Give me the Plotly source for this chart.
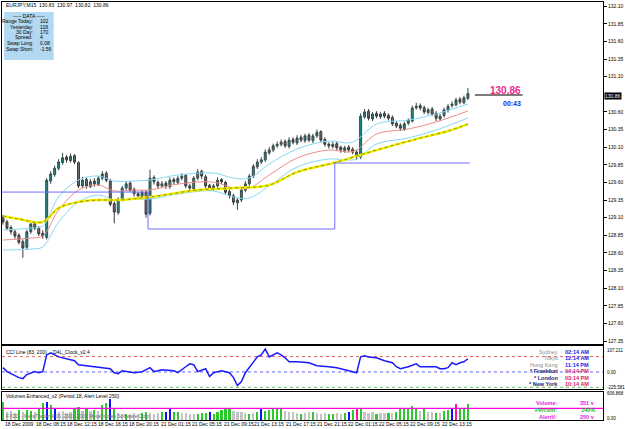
import plotly.graph_objects as go

# ---------------- data ----------------
bars = list(range(118))
opens = [129.10,129.04,128.96,128.90,128.85,128.76,128.68,128.90,129.02,128.95,
         128.88,128.82,129.62,129.71,129.80,129.88,129.96,129.91,129.98,129.88,
         129.55,129.64,129.54,129.62,129.57,129.66,129.73,129.62,129.30,129.17,
         129.36,129.52,129.59,129.50,129.44,129.40,129.46,129.16,129.67,129.60,
         129.55,129.59,129.54,129.64,129.60,129.66,129.70,129.55,129.51,129.66,
         129.76,129.68,129.56,129.51,129.55,129.64,129.60,129.47,129.41,129.31,
         129.35,129.49,129.58,129.69,129.82,129.89,129.92,130.02,130.06,130.12,
         130.14,130.18,130.11,130.21,130.16,130.24,130.19,130.27,130.19,130.26,
         130.32,130.21,130.14,130.11,130.15,130.10,130.05,130.10,130.07,130.03,
         129.96,130.53,130.61,130.50,130.58,130.53,130.58,130.55,130.52,130.44,
         130.41,130.36,130.44,130.47,130.66,130.69,130.66,130.59,130.64,130.58,
         130.50,130.55,130.62,130.69,130.70,130.78,130.73,130.79]
highs = [129.14,129.07,128.99,128.93,128.88,128.79,128.93,129.06,129.05,128.98,
         128.92,129.66,129.76,129.84,129.93,130.02,129.99,130.01,130.00,129.90,
         129.68,129.67,129.65,129.66,129.69,129.76,129.76,129.65,129.33,129.39,
         129.55,129.62,129.62,129.53,129.47,129.49,129.49,129.78,129.70,129.63,
         129.62,129.62,129.67,129.67,129.69,129.73,129.72,129.58,129.69,129.79,
         129.78,129.71,129.58,129.58,129.67,129.66,129.62,129.50,129.44,129.38,
         129.52,129.62,129.72,129.86,129.93,129.96,130.07,130.10,130.15,130.18,
         130.21,130.21,130.24,130.24,130.27,130.27,130.29,130.30,130.29,130.35,
         130.34,130.24,130.17,130.18,130.18,130.12,130.12,130.13,130.10,130.06,
         130.58,130.64,130.64,130.60,130.61,130.60,130.61,130.58,130.55,130.47,
         130.44,130.46,130.51,130.69,130.73,130.72,130.69,130.66,130.67,130.61,
         130.57,130.66,130.71,130.75,130.80,130.81,130.83,130.94]
lows = [129.00,128.92,128.86,128.80,128.72,128.53,128.65,128.87,128.92,128.84,
        128.80,128.79,129.58,129.68,129.77,129.85,129.88,129.88,129.86,129.52,
        129.52,129.51,129.52,129.54,129.55,129.63,129.60,129.26,129.02,129.14,
        129.33,129.49,129.46,129.40,129.37,129.38,129.10,129.13,129.57,129.51,
        129.52,129.51,129.51,129.57,129.57,129.63,129.52,129.48,129.48,129.63,
        129.65,129.52,129.48,129.48,129.52,129.58,129.43,129.37,129.28,129.21,
        129.32,129.46,129.55,129.66,129.79,129.86,129.89,129.99,130.03,130.09,
        130.11,130.09,130.08,130.14,130.13,130.17,130.16,130.17,130.16,130.23,
        130.17,130.11,130.08,130.08,130.06,130.02,130.02,130.03,130.00,129.92,
        129.93,130.50,130.48,130.47,130.51,130.50,130.51,130.48,130.40,130.37,
        130.33,130.33,130.41,130.45,130.63,130.62,130.57,130.56,130.54,130.47,
        130.47,130.52,130.59,130.66,130.68,130.71,130.71,130.77]
closes = [129.04,128.95,128.90,128.84,128.75,128.67,128.90,129.01,128.95,128.87,
          128.84,129.63,129.72,129.80,129.89,129.95,129.92,129.97,129.89,129.55,
          129.63,129.55,129.61,129.58,129.66,129.72,129.63,129.29,129.18,129.35,
          129.52,129.58,129.49,129.44,129.41,129.46,129.15,129.66,129.61,129.55,
          129.58,129.55,129.63,129.61,129.66,129.69,129.55,129.52,129.66,129.75,
          129.69,129.55,129.52,129.55,129.63,129.61,129.46,129.41,129.32,129.35,
          129.49,129.58,129.69,129.83,129.89,129.92,130.03,130.06,130.12,130.14,
          130.17,130.12,130.20,130.17,130.23,130.20,130.26,130.20,130.26,130.31,
          130.20,130.14,130.12,130.14,130.09,130.06,130.09,130.06,130.03,129.97,
          130.54,130.60,130.51,130.57,130.54,130.57,130.54,130.51,130.43,130.40,
          130.37,130.43,130.48,130.655,130.68,130.655,130.60,130.63,130.57,130.51,
          130.54,130.63,130.68,130.71,130.77,130.74,130.80,130.86]

ma_idx = [0, 7, 10, 14, 19, 24, 28, 33, 37, 44, 53, 58, 62, 67, 74, 82, 87, 89, 94, 102, 109, 117]
ma_mid = [128.783,128.811,128.840,129.208,129.492,129.563,129.478,129.492,129.492,129.577,129.605,
          129.520,129.520,129.705,129.946,130.059,130.031,130.059,130.286,130.357,130.457,130.613]
ma_up = [128.925,128.953,128.981,129.393,129.634,129.691,129.620,129.620,129.634,129.705,129.733,
         129.662,129.662,129.861,130.074,130.187,130.159,130.201,130.428,130.485,130.570,130.712]
ma_dn = [128.641,128.655,128.684,129.038,129.322,129.421,129.350,129.364,129.364,129.435,129.478,
         129.393,129.379,129.549,129.818,129.932,129.918,129.932,130.145,130.230,130.343,130.513]
ma200_idx = [0, 4, 10, 14, 19, 24, 29, 37, 49, 58, 67, 74, 84, 94, 104, 112, 117]
ma200 = [129.123,129.081,129.038,129.237,129.322,129.350,129.350,129.393,129.492,129.520,
         129.563,129.747,129.889,130.059,130.215,130.329,130.428]

day_levels = [129.463, 128.939, 129.875]
day_breaks = [-0.5, 36.5, 83.5, 117.5]

cci_idx = [0,1,4,5,6,8,9,10,11,12,14,15,17,18,19,21,24,27,28,29,30,33,35,37,38,40,43,44,46,47,
           48,49,51,52,53,55,57,58,59,60,61,63,64,65,66,67,69,70,71,72,74,77,79,82,84,87,89,90,91,92,
           94,96,98,99,100,102,104,105,107,109,110,111,112,113,114,115,116,117]
cci_val = [28,2,-37,-43,-17,2,-5,2,111,124,98,92,79,73,47,41,28,21,-5,-11,8,-5,2,28,2,15,8,-5,34,53,
           47,2,21,-30,-5,8,-5,-37,-88,-62,-5,60,98,111,150,98,124,111,92,66,66,60,41,34,28,8,-5,98,105,98,
           92,73,60,34,21,34,53,34,34,34,21,21,28,60,47,60,66,86]
cci_levels = [100, 0, -100]

volumes = [400,180,200,150,220,180,210,200,170,230,
           360,400,320,270,180,190,160,180,260,280,
           200,250,190,220,200,330,360,450,240,150,
           140,120,130,150,120,150,180,160,140,150,
           170,180,230,180,170,150,160,140,130,120,
           150,150,180,140,180,210,230,250,200,180,
           170,160,140,150,170,230,200,220,250,260,
           250,190,180,170,160,120,160,170,180,150,
           140,150,130,140,150,130,160,180,220,260,
           230,170,160,170,140,160,150,160,150,180,
           230,250,260,300,240,190,230,180,170,150,
           160,190,210,250,350,260,240,351]
vol_kind = ("G g g g G g G G g G  G B G B g g g g G G  g G g G g G G B G g  g G g g g G G g g g  "
            "G B B G G g g g g G  G G B G G G G G g g  g g G g G B G G G G  G g g g g G g g G g  "
            "g g G G g g G B G M  G g g g G g g G g G  G G G G G g G g g G  g G G B M G G G").split()
vol_alert = 250
vol_max = 606.868

# price scale labels (130.85 is hidden under the last-price box in the reference)
price_ticks = [round(127.35 + 0.25 * k, 2) for k in range(20)]
price_ticks = [p for p in price_ticks if abs(p - 130.85) > 0.01]
time_pos = [0, 7.75, 15.5, 23.5, 31.25, 39.25, 47, 55, 62.75, 70.75, 78.5, 86.25, 94, 102, 110]
time_text = ["18 Dec 2009", "18 Dec 08:15", "18 Dec 12:15", "18 Dec 16:15", "18 Dec 20:15",
             "21 Dec 01:15", "21 Dec 05:15", "21 Dec 09:15", "21 Dec 13:15", "21 Dec 17:15",
             "21 Dec 21:15", "22 Dec 01:15", "22 Dec 05:15", "22 Dec 09:15", "22 Dec 13:15"]

cities = ["Sydney", "Tokyo", "Hong Kong", "* Frankfurt", "* London", "* New York"]
city_times = ["02:14 AM", "12:14 AM", "11:14 PM", "04:14 PM", "03:14 PM", "10:14 AM"]
data_labels = ["Range Today:", "Yesterday:", "30 Day:", "Spread:", "Swap Long:", "Swap Short:"]
data_values = ["102", "118", "170", "4", "0.08", "-1.56"]

# ---------------- figure ----------------
W, H = 625, 429
ML, MR, MT, MB = 1, 19, 2, 9
PW, PH = W - ML - MR, H - MT - MB

def PX(x):
    return (x - ML) / PW

def PY(y):
    return (H - MB - y) / PH

FONT = "Liberation Sans Narrow, Liberation Sans, Arial"
fig = go.Figure()

fig.add_trace(go.Candlestick(
    x=bars, open=opens, high=highs, low=lows, close=closes,
    increasing=dict(line=dict(color="#3a4a4a", width=1), fillcolor="#1c8a8a"),
    decreasing=dict(line=dict(color="#3a3a3a", width=1), fillcolor="#6e6e6e"),
    whiskerwidth=0, showlegend=False, xaxis="x", yaxis="y"))

for ys, col, w in [(ma_up, "#86d8f2", 1), (ma_dn, "#86d8f2", 1), (ma_mid, "#ee8a8a", 1)]:
    fig.add_trace(go.Scatter(x=ma_idx, y=ys, mode="lines", line=dict(color=col, width=w, shape="spline"),
                             showlegend=False, hoverinfo="skip", xaxis="x", yaxis="y"))
fig.add_trace(go.Scatter(x=ma200_idx, y=ma200, mode="lines",
                         line=dict(color="#f0f000", width=2.4, shape="spline"),
                         showlegend=False, hoverinfo="skip", xaxis="x", yaxis="y"))
fig.add_trace(go.Scatter(x=ma200_idx, y=ma200, mode="lines",
                         line=dict(color="#9a8a00", width=1, dash="dot", shape="spline"),
                         showlegend=False, hoverinfo="skip", xaxis="x", yaxis="y"))

sx, sy = [], []
for k, lv in enumerate(day_levels):
    sx += [day_breaks[k], day_breaks[k + 1]]
    sy += [lv, lv]
fig.add_trace(go.Scatter(x=sx, y=sy, mode="lines", line=dict(color="#6f6fff", width=1),
                         showlegend=False, hoverinfo="skip", xaxis="x", yaxis="y"))

# last price line
fig.add_trace(go.Scatter(x=[118.75, 130.75], y=[130.84, 130.84], mode="lines",
                         line=dict(color="#505050", width=1.5), showlegend=False, hoverinfo="skip",
                         xaxis="x", yaxis="y"))

# CCI
for lv, col in zip(cci_levels, ["#e06060", "#6060ff", "#60c060"]):
    fig.add_trace(go.Scatter(x=[-0.25, 151], y=[lv, lv], mode="lines",
                             line=dict(color=col, width=1, dash="dot"), showlegend=False,
                             hoverinfo="skip", xaxis="x2", yaxis="y2"))
fig.add_trace(go.Scatter(x=cci_idx, y=cci_val, mode="lines", line=dict(color="#1a1aff", width=1.5),
                         showlegend=False, hoverinfo="skip", xaxis="x2", yaxis="y2"))

# Volumes
cmap = {"g": "#c4c4c4", "G": "#2ec82e", "B": "#1010ff", "M": "#ff1493"}
fig.add_trace(go.Bar(x=bars, y=volumes, marker=dict(color=[cmap[k] for k in vol_kind], line=dict(width=0)),
                     width=0.55, showlegend=False, hoverinfo="skip", xaxis="x3", yaxis="y3"))
fig.add_trace(go.Scatter(x=[-0.25, 151], y=[vol_alert, vol_alert], mode="lines",
                         line=dict(color="#ff00e0", width=1.2), showlegend=False, hoverinfo="skip",
                         xaxis="x3", yaxis="y3"))

# domains
d_main = [PY(344), 1]
d_cci = [PY(389), PY(346)]
d_vol = [0, PY(392)]
xr = [-0.25, 151]
ax_common = dict(showline=True, linecolor="#000", linewidth=1, mirror=True, showgrid=False,
                 zeroline=False, fixedrange=True)

fig.update_layout(
    width=W, height=H, margin=dict(l=ML, r=MR, t=MT, b=MB),
    paper_bgcolor="white", plot_bgcolor="white",
    bargap=0,
    xaxis=dict(range=xr, domain=[0, 1], anchor="y", showticklabels=False, rangeslider=dict(visible=False),
               **ax_common),
    xaxis2=dict(range=xr, domain=[0, 1], anchor="y2", showticklabels=False, **ax_common),
    xaxis3=dict(range=xr, domain=[0, 1], anchor="y3", showticklabels=False, **ax_common),
    yaxis=dict(range=[127.308, 132.159], domain=d_main, side="right", tickvals=price_ticks,
               tickformat=".2f", ticks="outside", ticklen=3, tickcolor="#000",
               tickfont=dict(family=FONT, size=5, color="#000"), **ax_common),
    yaxis2=dict(range=[-111, 169], domain=d_cci, showticklabels=False, **ax_common),
    yaxis3=dict(range=[0, vol_max], domain=d_vol, showticklabels=False, **ax_common),
    font=dict(family=FONT, size=5, color="#000"),
)

ann = []

def A(x, y, text, color="#000", size=5, xa="left", ya="middle", bold=False, bg=None):
    t = f"<b>{text}</b>" if bold else text
    d = dict(xref="paper", yref="paper", x=PX(x), y=PY(y), text=t, showarrow=False,
             xanchor=xa, yanchor=ya, font=dict(family=FONT, size=size, color=color))
    if bg:
        d["bgcolor"] = bg
        d["borderpad"] = 0
    ann.append(d)

A(3, 5, "EURJPY,M15  130.83  130.97  130.82  130.86")
# data box
fig.add_shape(type="rect", xref="paper", yref="paper", x0=PX(3), x1=PX(53), y0=PY(60), y1=PY(12),
              fillcolor="#b3d9f2", line=dict(width=0), layer="above")
A(28, 16, "----- DATA -----", xa="center")
for k, (lab, val) in enumerate(zip(data_labels, data_values)):
    A(34, 21 + 5.5 * k, lab, xa="right")
    A(37, 21 + 5.5 * k, val)

# current price
A(508, 90, "130.86", color="#ee2a8c", size=10, xa="center", bold=True)
A(514, 103, "00:43", color="#2424e6", size=7, xa="center", bold=True)
A(607, 96, "130.86", color="#fff", size=5, bg="#000")

# CCI panel
A(3, 352, "CCI Line (83, 200)")
A(50, 352, "D4L_Clock_v2.4")
for k, (c, t) in enumerate(zip(cities, city_times)):
    yy = 351.5 + 6.5 * k
    A(563, yy, c, color="#8c8c8c" if k < 3 else "#1c1c70", size=5.5, xa="right", bold=(k >= 3))
    A(566, yy, t, color="#2020e6" if k < 3 else "#e0206a", size=5.5, bold=True)
A(608, 350, "107.211", size=4.5)
A(608, 372, "0.00", size=4.5)
A(608, 387, "-225.581", size=4.5)

# Volume panel
A(3, 396, "Volumes Enhanced_v2 (Period 18, Alert Level 250)")
A(3, 416, "FXDD - MetaTrader 4.00, 2001-2009 MetaQuotes Software Corp.", color="#707070")
for k, (lab, val, col) in enumerate([("Volume:", "351 v", "#e020e0"), ("Percent:", "140%", "#22b822"),
                                      ("AlertV:", "250 v", "#e020e0")]):
    yy = 403 + 7 * k
    A(562, yy, lab, color=col, size=5.5, xa="right", bold=True)
    A(600, yy, val, color=col, size=5.5, xa="right", bold=True)
A(608, 393, "606.868", size=4.5)
A(608, 418, "0.00", size=4.5)

# time labels
for p, t in zip(time_pos, time_text):
    ann.append(dict(xref="x3", yref="paper", x=p, y=PY(424), text=t, showarrow=False,
                    xanchor="left", yanchor="middle", font=dict(family=FONT, size=5, color="#000")))

fig.update_layout(annotations=ann)
fig.write_html("out.html")
